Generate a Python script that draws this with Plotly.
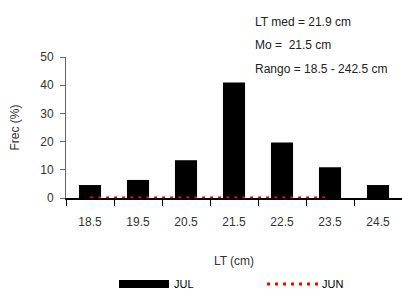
import plotly.graph_objects as go

categories = ["18.5", "19.5", "20.5", "21.5", "22.5", "23.5", "24.5"]
jul_values = [4.6, 6.4, 13.4, 41.0, 19.7, 10.9, 4.6]
jun_categories = ["18.5", "19.5", "20.5", "21.5", "22.5", "23.5"]
jun_values = [0, 0, 0, 0, 0, 0]
y_ticks = [0, 10, 20, 30, 40, 50]
stats_lines = ["LT med = 21.9 cm", "Mo =  21.5 cm", "Rango = 18.5 - 242.5 cm"]

FONT = "Liberation Sans, Arial, sans-serif"

W, H = 402, 289
l, r, t, b = 66, 0, 57, 91
pw, ph = W - l - r, H - t - b
def px(xp):
    return (xp - l) / pw
def py(yp):
    return (H - b - yp) / ph

fig = go.Figure()
fig.add_trace(go.Bar(x=categories, y=jul_values, name="JUL",
                     marker=dict(color="black", line=dict(width=0)),
                     showlegend=False))
fig.add_trace(go.Scatter(x=jun_categories, y=jun_values, name="JUN", mode="lines",
                         line=dict(color="red", width=3, dash="3px,5px"),
                         cliponaxis=False, showlegend=False))

fig.update_layout(
    width=W, height=H,
    margin=dict(l=l, r=r, t=t, b=b),
    plot_bgcolor="white", paper_bgcolor="white",
    font=dict(family=FONT, size=12, color="#333"),
    bargap=0.54,
    xaxis=dict(type="category", categoryorder="array", categoryarray=categories,
               showline=True, linecolor="black", linewidth=1.5, layer="below traces",
               ticks="outside", tickson="boundaries", ticklen=6, tickcolor="black",
               ticklabelstandoff=12,
               showgrid=False, tickfont=dict(size=12, color="#333"),
               title=dict(text="LT (cm)", font=dict(size=12, color="#333"), standoff=28)),
    yaxis=dict(range=[0, 50], tickvals=y_ticks, showline=True, linecolor="#666",
               linewidth=1, ticks="outside", ticklen=5, tickcolor="#666",
               ticklabelstandoff=4,
               showgrid=False, zeroline=False, tickfont=dict(size=12, color="#333"),
               title=dict(text="Frec (%)", font=dict(size=12, color="#333"), standoff=18)),
)

for txt, yp in zip(stats_lines, [22, 45, 69]):
    fig.add_annotation(x=px(253), y=py(yp), xref="paper", yref="paper", text=txt,
                       showarrow=False, xanchor="left", yanchor="middle",
                       font=dict(size=12, color="#222"))

# custom legend
fig.add_shape(type="rect", xref="paper", yref="paper",
              x0=px(119), x1=px(169), y0=py(288), y1=py(280),
              fillcolor="black", line=dict(width=0))
fig.add_annotation(x=px(172), y=py(284), xref="paper", yref="paper", text="JUL",
                   showarrow=False, xanchor="left", yanchor="middle",
                   font=dict(size=11, color="black"))
fig.add_shape(type="line", xref="paper", yref="paper",
              x0=px(267), x1=px(318), y0=py(284), y1=py(284),
              line=dict(color="red", width=3, dash="3px,5px"))
fig.add_annotation(x=px(320), y=py(284), xref="paper", yref="paper", text="JUN",
                   showarrow=False, xanchor="left", yanchor="middle",
                   font=dict(size=11, color="black"))

fig.write_html("out.html", config={"displayModeBar": False},
               post_script="document.body.style.margin='0';document.body.style.overflow='hidden';")
